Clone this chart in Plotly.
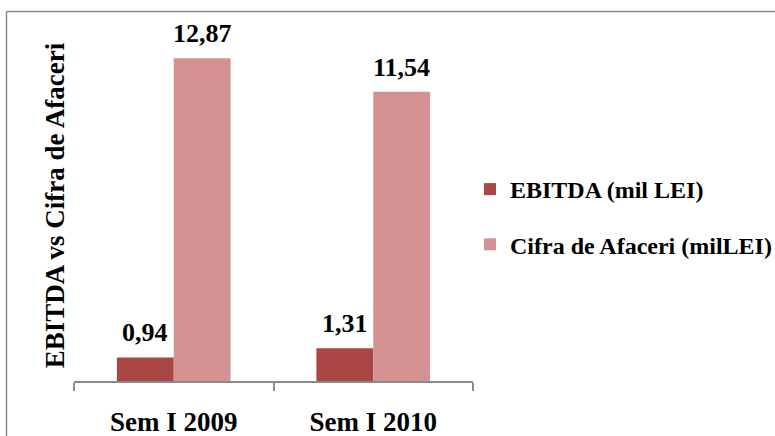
import plotly.graph_objects as go

categories = ["Sem I 2009", "Sem I 2010"]
ebitda = [0.94, 1.31]
cifra = [12.87, 11.54]
series_names = ["EBITDA (mil LEI)", "Cifra de Afaceri (milLEI)"]
colors = ["#AA4643", "#D39291"]
y_title = "EBITDA vs Cifra de Afaceri"

W, H = 775, 436
L, R, T, B = 74, 302, 30, 55
pw, ph = W - L - R, H - T - B
FONT = "Liberation Serif"

fig = go.Figure()
for i, (name, vals) in enumerate(zip(series_names, [ebitda, cifra])):
    fig.add_trace(go.Bar(
        x=categories, y=vals, name=name, marker=dict(color=colors[i], line=dict(width=0)),
        legendgroup=f"g{i}", hoverinfo="skip",
    ))

# data labels
for i, vals in enumerate([ebitda, cifra]):
    shift = (-1 if i == 0 else 1) * 28.5
    for c, v in zip(categories, vals):
        fig.add_annotation(x=c, y=v, xref="x", yref="y", text=f"{v:.2f}".replace(".", ","),
                           showarrow=False, yanchor="bottom", xshift=shift, yshift=8,
                           font=dict(family=FONT, size=26, color="#000000", weight="bold"))

def px(x):
    return (x - L) / pw
def py(y):
    return 1 - (y - T) / ph

fig.add_shape(type="line", xref="paper", yref="paper", x0=px(6.5), x1=px(W + 5), y0=py(11.5), y1=py(11.5),
              line=dict(color="#8A8A8A", width=1.5))
fig.add_shape(type="line", xref="paper", yref="paper", x0=px(6.5), x1=px(6.5), y0=py(11.5), y1=py(H + 5),
              line=dict(color="#8A8A8A", width=1.5))

fig.update_layout(
    width=W, height=H, margin=dict(l=L, r=R, t=T, b=B, autoexpand=False),
    paper_bgcolor="white", plot_bgcolor="white",
    barmode="group", bargap=0.43, bargroupgap=0,
    font=dict(family=FONT, size=22, color="#000000"),
    showlegend=True,
    legend=dict(x=px(470), xanchor="left", y=py(217), yanchor="middle", xref="paper",
                font=dict(family=FONT, size=24, color="#000000", weight="bold"),
                tracegroupgap=21, itemwidth=30, bgcolor="rgba(0,0,0,0)"),
    xaxis=dict(showline=True, linecolor="#8A8A8A", linewidth=1.5, ticks="outside", ticklen=8,
               tickcolor="#8A8A8A", tickwidth=1.5, tickson="boundaries", showgrid=False,
               automargin=False,
               tickfont=dict(family=FONT, size=27, color="#000000", weight="bold"),
               ticklabelstandoff=16),
    yaxis=dict(range=[0, 14], showgrid=False, showline=False, showticklabels=False, ticks="",
               zeroline=False, automargin=False,
               title=dict(text=y_title, standoff=0,
                          font=dict(family=FONT, size=27, color="#000000", weight="bold"))),
)

fig.write_html("out.html", config={"displayModeBar": False},
               post_script="document.body.style.margin='0';")
